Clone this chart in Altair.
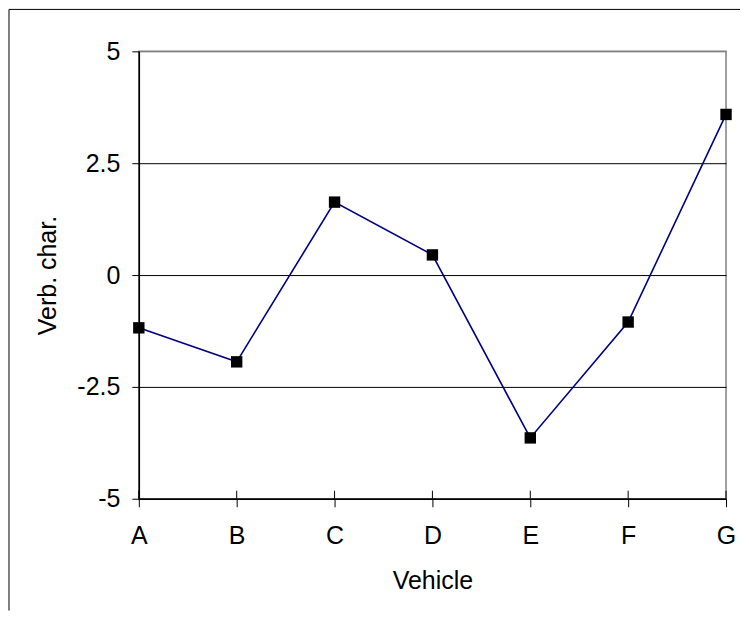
import altair as alt
import pandas as pd

vehicles = ["A", "B", "C", "D", "E", "F", "G"]
verb_char = [-1.18, -1.94, 1.63, 0.45, -3.64, -1.05, 3.59]
y_ticks = [-5, -2.5, 0, 2.5, 5]

df = pd.DataFrame({"vehicle": vehicles, "verb": verb_char})

W, H = 588, 448
FONT = "Liberation Sans"
FS = 25

x_enc = alt.X(
    "vehicle:N",
    scale=alt.Scale(type="point", padding=0),
    sort=vehicles,
    axis=alt.Axis(
        title="Vehicle", labelAngle=0, labelAlign="center", labelFlush=False,
        domainColor="black", tickColor="black",
        tickSize=8, labelPadding=29, titlePadding=20, grid=False,
    ),
)
y_enc = alt.Y(
    "verb:Q",
    scale=alt.Scale(domain=[-5, 5], nice=False, zero=False),
    axis=alt.Axis(
        title="Verb. char.", values=y_ticks, labelExpr="datum.value + ''",
        domainColor="black", tickColor="black", tickSize=7, labelPadding=12,
        titlePadding=16,
        gridColor={"condition": {"test": "datum.value === 5", "value": "#808080"}, "value": "black"},
        gridOpacity=1,
    ),
)

base = alt.Chart(df)

line = base.mark_line(color="#000080", strokeWidth=1.6).encode(x=x_enc, y=y_enc)
pts = base.mark_point(shape="square", filled=True, color="black", size=130, opacity=1).encode(x=x_enc, y=y_enc)

# inner half of the crossing category ticks
inner_ticks = base.mark_rule(color="black", strokeWidth=1).encode(
    x=alt.X("vehicle:N", sort=vehicles, scale=alt.Scale(type="point", padding=0)),
    y=alt.value(H - 8), y2=alt.value(H),
)

frame_df = pd.DataFrame({"k": [0]})
frame_top = alt.Chart(frame_df).mark_rule(color="black", strokeWidth=1).encode(
    x=alt.value(-130), x2=alt.value(602), y=alt.value(-42)
)
frame_left = alt.Chart(frame_df).mark_rule(color="black", strokeWidth=1).encode(
    x=alt.value(-130), y=alt.value(-42), y2=alt.value(560)
)

chart = alt.layer(inner_ticks, line, pts, frame_top, frame_left).properties(
    width=W, height=H, padding=0, background="white"
).configure_view(
    stroke="#808080", strokeWidth=1.5
).configure_axis(
    labelFont=FONT, titleFont=FONT, labelFontSize=FS, titleFontSize=FS,
    labelColor="black", titleColor="black", titleFontWeight="normal",
    domainWidth=1.5,
)

chart.save("out.html", embed_options={"renderer": "svg", "actions": False})
